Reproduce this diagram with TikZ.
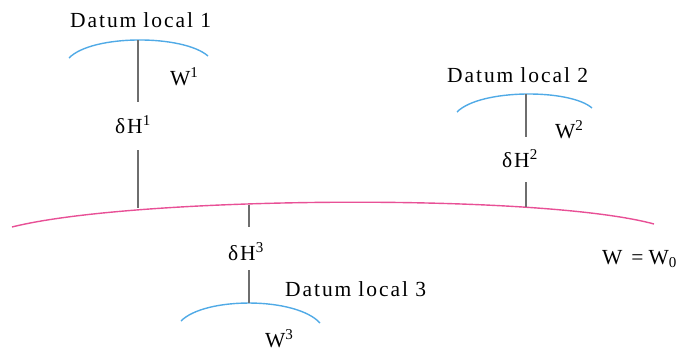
\documentclass[tikz,border=0pt]{standalone}
\usepackage{fontspec}
\setmainfont[LetterSpace=9]{Liberation Serif}
\definecolor{arcblue}{RGB}{80,170,230}
\definecolor{arcpink}{RGB}{232,80,150}
\definecolor{stem}{RGB}{110,110,110}
\begin{document}
\begin{tikzpicture}[x=1pt,y=-1pt,
  lbl/.style={inner sep=0pt,anchor=base west,font=\fontsize{21.5}{24}\selectfont},
  datum/.style={draw=arcblue,line width=1.4pt},
  geoid/.style={draw=arcpink,line width=1.4pt},
  stemline/.style={draw=stem,line width=1.4pt}]
\useasboundingbox (0,0) rectangle (699,354);
% texts
\node[lbl] (L1) at (70,27) {Datum\hspace{7pt}local 1};
\node[lbl] (W1) at (170,85) {W\textsuperscript{1}};
\node[lbl] (dH1) at (115,133) {δH\textsuperscript{1}};
\node[lbl] (L2) at (447,82) {Datum\hspace{7pt}local 2};
\node[lbl] (W2) at (555,138) {W\textsuperscript{2}};
\node[lbl] (dH2) at (502,167) {δH\textsuperscript{2}};
\node[lbl] (dH3) at (228,260) {δH\textsuperscript{3}};
\node[lbl] (L3) at (285,296) {Datum\hspace{7pt}local 3};
\node[lbl] (W3) at (265,347) {W\textsuperscript{3}};
\node[lbl] (W0) at (602,264) {W\hspace{9pt}=\hspace{5pt}W\textsubscript{0}};
% arcs
\coordinate (a1) at (138,40);
\coordinate (a2) at (526,94);
\coordinate (a3) at (249,303);
\draw[datum] (69,58) .. controls (92,34.3) and (183,34.3) .. (208,56);
\draw[datum] (457,112) .. controls (480,88.7) and (570,88.7) .. (592,108);
\draw[datum] (181,321) .. controls (205,296.7) and (296,296.7) .. (320,323);
\draw[geoid] (12,227) .. controls (135,196) and (540,193) .. (654,224);
% stems
\coordinate (g1) at (138,208);
\coordinate (g2) at (526,206.5);
\coordinate (g3) at (249,204.5);
\coordinate (h1t) at (138,102);
\coordinate (h1b) at (138,150);
\coordinate (h2t) at (526,137);
\coordinate (h2b) at (526,182);
\coordinate (h3t) at (249,227);
\coordinate (h3b) at (249,270);
\draw[stemline] (a1) -- (h1t);
\draw[stemline] (h1b) -- (g1);
\draw[stemline] (a2) -- (h2t);
\draw[stemline] (h2b) -- (g2);
\draw[stemline] (g3) -- (h3t);
\draw[stemline] (h3b) -- (a3);
\end{tikzpicture}
\end{document}
